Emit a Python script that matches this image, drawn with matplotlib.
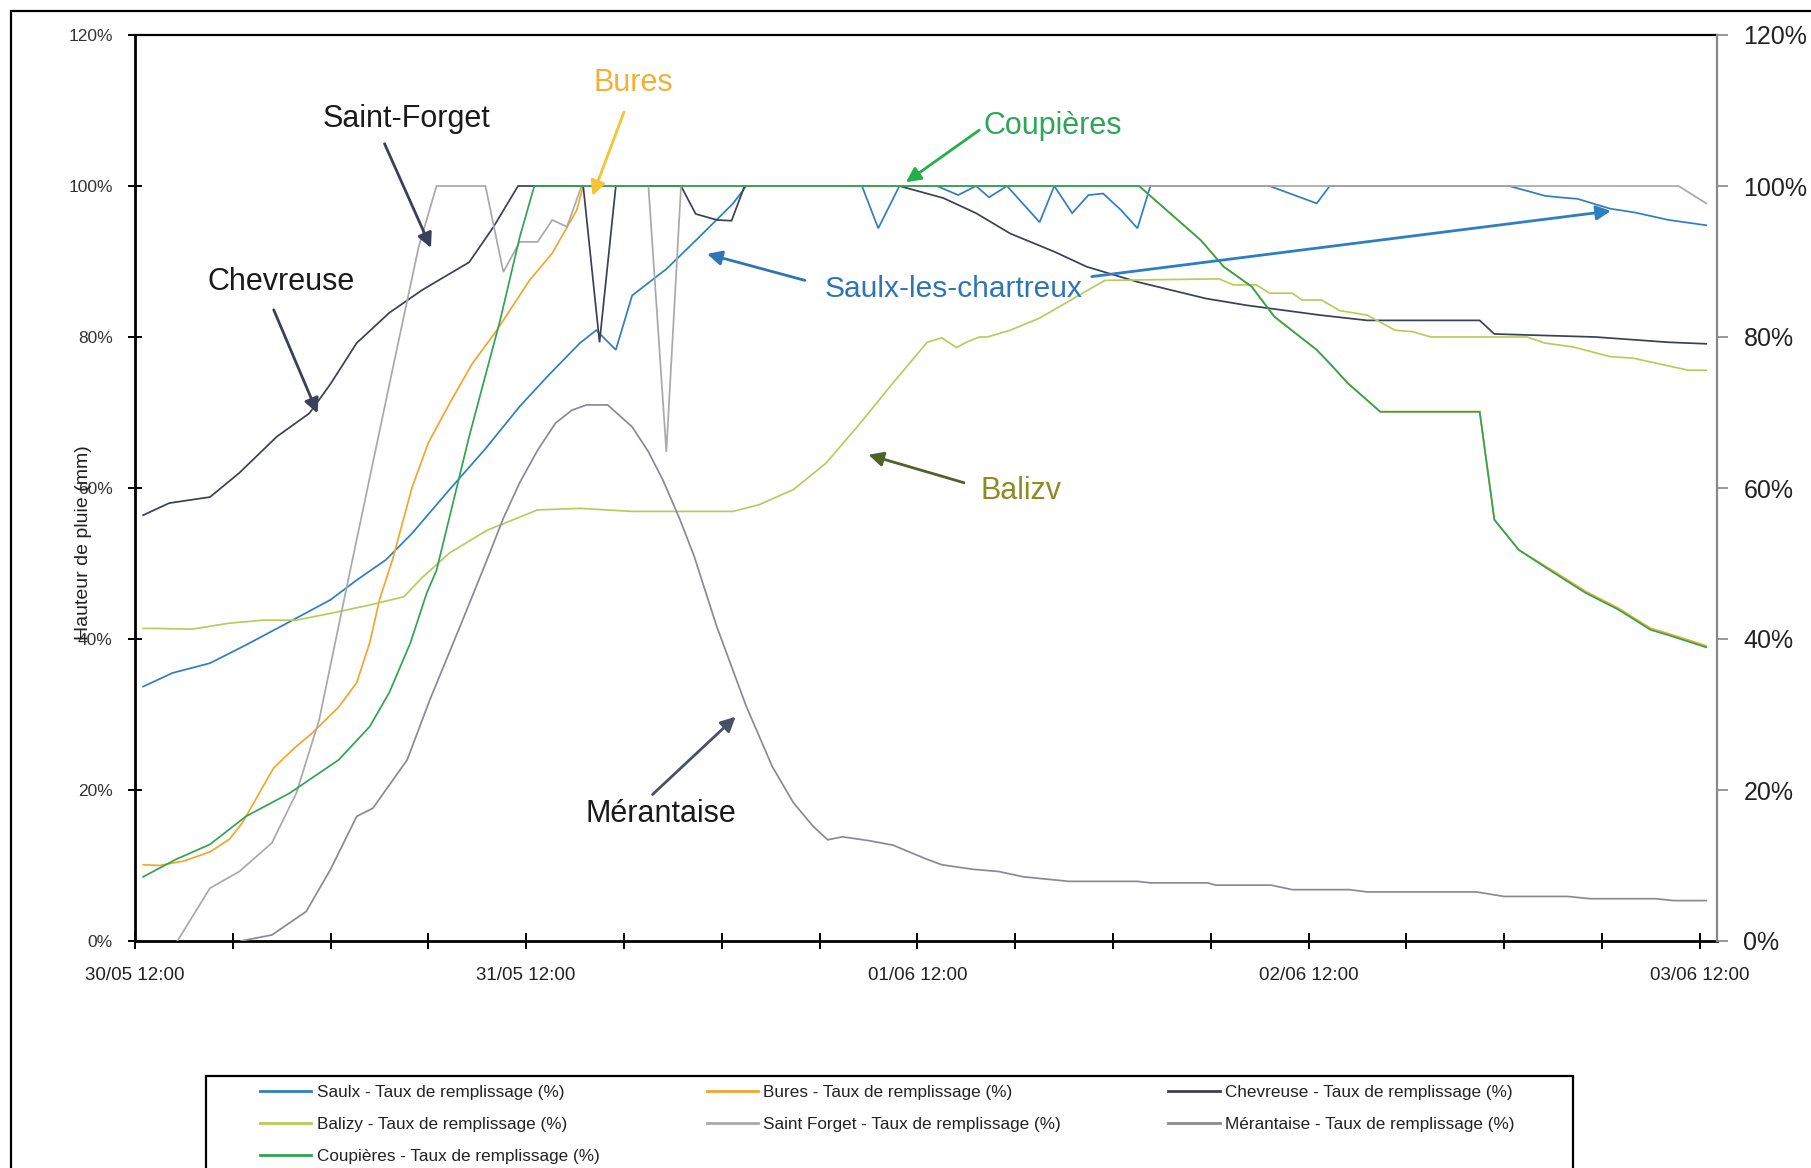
import matplotlib
matplotlib.use("Agg")
import matplotlib.pyplot as plt
from matplotlib.patches import Rectangle
from matplotlib.ticker import PercentFormatter

plt.rcParams['font.family'] = ['Liberation Sans', 'DejaVu Sans']

# ---------------- data (x = hours since 30/05 12:00, y = fill rate %) -------------
saulx_t = [0.5, 2.3, 4.6, 6.8, 9.5, 12.0, 13.6, 15.4, 17.0, 19.3, 21.5, 23.6, 25.4, 27.3,
           28.3, 29.5, 30.5, 32.6, 34.6, 36.7, 37.5, 44.6, 45.6, 46.9, 49.2, 50.5, 51.6,
           52.4, 53.5, 55.5, 56.4, 57.5, 58.5, 59.4, 60.5, 61.5, 62.3, 69.6, 72.5, 73.3,
           84.3, 85.5, 86.5, 87.4, 88.5, 90.5, 92.0, 94.1, 96.4]
saulx_v = [33.7, 35.5, 36.8, 39.2, 42.3, 45.2, 47.8, 50.5, 54.0, 59.8, 65.2, 70.8, 75.0, 79.2,
           80.9, 78.3, 85.5, 89.0, 93.2, 97.7, 100, 100, 94.4, 100, 100, 98.8, 100,
           98.5, 100, 95.2, 100, 96.4, 98.8, 99.0, 96.8, 94.4, 100, 100, 97.7, 100,
           100, 99.3, 98.7, 98.5, 98.3, 97.0, 96.5, 95.5, 94.8]

bures_t = [0.5, 1.5, 3.0, 4.6, 5.8, 6.6, 7.6, 8.5, 9.7, 10.9, 12.5, 13.6, 14.4, 15.0, 15.8,
           17.0, 18.0, 19.3, 20.7, 22.2, 24.2, 25.6, 27.1, 27.5, 61.6, 65.4, 66.8, 68.5,
           69.9, 72.5, 73.3, 74.4, 76.4, 82.5, 83.4, 84.9, 87.1, 89.0, 91.0, 93.0, 94.1, 96.4]
bures_v = [10.1, 10.0, 10.6, 11.8, 13.5, 15.7, 19.5, 22.9, 25.4, 27.6, 31.0, 34.2, 39.5, 45.2, 50.5,
           60.1, 66.0, 71.2, 76.5, 80.9, 87.5, 91.1, 96.8, 100, 100, 92.8, 89.3, 86.7,
           82.7, 78.3, 76.5, 73.9, 70.1, 70.1, 55.8, 51.8, 48.9, 46.3, 44.1, 41.4, 40.7, 39.1]

chevreuse_t = [0.5, 2.1, 4.6, 6.4, 8.7, 10.7, 12.0, 13.6, 15.6, 17.6, 20.5, 22.0, 23.5, 27.5,
               28.5, 29.5, 33.5, 34.4, 35.7, 36.6, 37.4, 46.9, 49.6, 51.6, 53.7, 56.4, 58.4,
               61.5, 65.7, 68.2, 72.7, 75.6, 82.5, 83.4, 89.6, 94.1, 96.4]
chevreuse_v = [56.4, 58.0, 58.8, 62.0, 66.8, 69.9, 73.8, 79.2, 83.2, 86.2, 89.9, 94.6, 100, 100,
               79.3, 100, 100, 96.3, 95.5, 95.4, 100, 100, 98.4, 96.4, 93.7, 91.3, 89.3,
               87.3, 85.1, 84.2, 82.9, 82.2, 82.2, 80.4, 80.0, 79.3, 79.1]

balizy_t = [0.5, 1.3, 3.5, 5.8, 7.9, 9.9, 12.0, 14.4, 16.5, 17.6, 19.3, 21.6, 24.7, 27.3,
            30.5, 36.7, 38.3, 40.4, 42.4, 44.5, 46.5, 48.6, 49.5, 50.4, 51.0, 51.8, 52.3,
            53.7, 55.5, 57.5, 59.5, 66.5, 67.4, 68.8, 69.6, 71.0, 71.6, 72.8, 73.9, 75.6,
            77.3, 78.4, 79.5, 85.4, 86.5, 88.2, 90.5, 91.9, 95.3, 96.4]
balizy_v = [41.4, 41.4, 41.3, 42.1, 42.5, 42.5, 43.4, 44.5, 45.6, 48.1, 51.4, 54.4, 57.1, 57.3,
            56.9, 56.9, 57.8, 59.8, 63.3, 68.6, 73.9, 79.3, 79.9, 78.6, 79.3, 80.0, 80.0,
            80.9, 82.5, 85.0, 87.5, 87.7, 86.9, 86.9, 85.8, 85.8, 84.9, 84.9, 83.5, 82.9,
            80.9, 80.7, 80.0, 80.0, 79.2, 78.7, 77.4, 77.2, 75.6, 75.6]

stforget_t = [2.6, 4.6, 6.4, 8.4, 9.9, 11.3, 13.0, 15.8, 17.4, 18.5, 21.5, 22.6, 23.6, 24.7,
              25.6, 26.5, 27.4, 31.5, 32.6, 33.5, 94.7, 96.4]
stforget_v = [0.0, 7.0, 9.2, 13.0, 19.6, 29.3, 47.0, 75.7, 91.9, 100, 100, 88.6, 92.6, 92.6,
              95.5, 94.6, 100, 100, 64.8, 100, 100, 97.7]

merantaise_t = [6.5, 8.4, 10.5, 12.0, 13.6, 14.6, 16.7, 18.1, 20.1, 21.6, 22.6, 23.6, 24.7,
                25.8, 26.8, 27.7, 29.0, 30.5, 31.5, 32.4, 33.4, 34.3, 35.7, 37.5, 39.1, 40.4,
                41.6, 42.5, 43.4, 45.0, 46.5, 47.5, 48.5, 49.5, 51.4, 53.0, 54.5, 57.3, 61.5,
                62.3, 65.8, 66.3, 69.7, 71.0, 74.5, 75.6, 82.3, 84.0, 87.9, 89.3, 93.3, 94.4, 96.4]
merantaise_v = [0.0, 0.8, 3.9, 9.5, 16.5, 17.6, 24.0, 32.0, 42.5, 50.5, 56.0, 60.7, 65.0,
                68.6, 70.3, 71.0, 71.0, 68.1, 64.8, 61.0, 56.0, 51.0, 41.6, 31.1, 23.1, 18.3,
                15.2, 13.4, 13.8, 13.3, 12.7, 11.8, 10.9, 10.1, 9.5, 9.2, 8.5, 7.9, 7.9,
                7.7, 7.7, 7.4, 7.4, 6.8, 6.8, 6.5, 6.5, 5.9, 5.9, 5.6, 5.6, 5.35, 5.35]

coupieres_t = [0.5, 2.5, 4.6, 6.8, 9.5, 12.5, 14.4, 15.6, 16.9, 17.9, 18.5, 20.5, 22.4, 23.6,
               24.5, 61.6, 65.4, 66.8, 68.5, 69.9, 72.5, 73.3, 74.4, 76.4, 82.5, 83.4, 84.9,
               87.1, 89.0, 91.0, 93.0, 94.1, 96.4]
coupieres_v = [8.5, 10.8, 12.8, 16.5, 19.6, 24.0, 28.4, 32.9, 39.5, 46.1, 49.1, 66.8, 82.2, 93.2,
               100, 100, 92.8, 89.3, 86.7, 82.7, 78.3, 76.5, 73.9, 70.1, 70.1, 55.8, 51.8,
               48.7, 46.1, 43.9, 41.2, 40.5, 38.9]

series_names = ["Saulx", "Bures", "Chevreuse", "Balizy", "Saint Forget", "Mérantaise", "Coupières"]
legend_suffix = " - Taux de remplissage (%)"

x_major_hours = [0, 24, 48, 72, 96]
x_major_labels = ["30/05 12:00", "31/05 12:00", "01/06 12:00", "02/06 12:00", "03/06 12:00"]
x_minor_hours = [6, 12, 18, 30, 36, 42, 54, 60, 66, 78, 84, 90]
y_ticks = [0, 20, 40, 60, 80, 100, 120]

# ---------------- styling ----------------
colors = {
    "Saulx": "#2f7ec1",
    "Bures": "#f5a52e",
    "Chevreuse": "#3c3f58",
    "Balizy": "#b8cc5c",
    "Saint Forget": "#a9a9ab",
    "Mérantaise": "#8a8a96",
    "Coupières": "#2fa552",
}

W, H = 1811, 1168
fig = plt.figure(figsize=(W / 100, H / 100), dpi=100)
L, R, T, B = 135, 1717, 35, 941
ax = fig.add_axes([L / W, 1 - B / H, (R - L) / W, (B - T) / H])

data = [
    (saulx_t, saulx_v), (bures_t, bures_v), (chevreuse_t, chevreuse_v),
    (balizy_t, balizy_v), (stforget_t, stforget_v), (merantaise_t, merantaise_v),
    (coupieres_t, coupieres_v),
]
handles = {}
for name, (t, v) in zip(series_names, data):
    ln, = ax.plot(t, v, color=colors[name], lw=1.25, solid_joinstyle='miter',
                  label=name + legend_suffix, zorder=3)
    handles[name] = ln

ax.set_xlim(0, 97.06)
ax.set_ylim(0, 120)
ax.set_xticks(x_major_hours)
ax.set_xticklabels(x_major_labels)
ax.set_xticks(x_minor_hours, minor=True)
ax.set_yticks(y_ticks)
ax.yaxis.set_major_formatter(PercentFormatter(xmax=100, decimals=0))
ax.tick_params(axis='x', which='both', direction='inout', length=11, width=1.4,
               labelsize=13.5, pad=13.5, colors='black', labelcolor='#222222')
ax.tick_params(axis='y', which='major', direction='inout', length=10, width=1.4,
               labelsize=12.5, pad=11, colors='black', labelcolor='#333333')
for s in ['left', 'bottom']:
    ax.spines[s].set_linewidth(2.0)
    ax.spines[s].set_color('black')
ax.spines['top'].set_linewidth(1.6)
ax.spines['top'].set_color('black')
ax.spines['right'].set_visible(False)

ax2 = ax.twinx()
ax2.set_ylim(0, 120)
ax2.set_yticks(y_ticks)
ax2.yaxis.set_major_formatter(PercentFormatter(xmax=100, decimals=0))
ax2.tick_params(axis='y', direction='out', length=8, width=1.2, colors='#888888',
                labelsize=18, pad=11, labelcolor='#222222')
for s in ['left', 'top', 'bottom']:
    ax2.spines[s].set_visible(False)
ax2.spines['right'].set_color('#888888')
ax2.spines['right'].set_linewidth(1.6)

# ---------------- annotations ----------------
def note(text, xy_text, xy_tail, xy_head, tcolor, acolor, size=22):
    ax.annotate('', xy=xy_head, xytext=xy_tail, xycoords='data', textcoords='data',
                arrowprops=dict(arrowstyle='-|>', color=acolor, lw=2.0,
                                mutation_scale=22, shrinkA=0, shrinkB=0),
                zorder=5, annotation_clip=False)
    ax.text(xy_text[0], xy_text[1], text, color=tcolor, fontsize=size,
            ha='center', va='center', zorder=6, clip_on=False)

note("Bures", (30.55, 113.6), (30.0, 109.8), (28.07, 98.7), "#f2b135", "#f5c334")
note("Saint-Forget", (16.66, 108.9), (15.31, 105.6), (18.16, 91.8), "#1a1a1a", "#3b3f5c")
note("Chevreuse", (8.94, 87.3), (8.51, 83.6), (11.2, 69.9), "#1a1a1a", "#3b3f5c")
note("Coupières", (56.3, 108.0), (51.8, 107.4), (47.3, 100.5), "#2fa558", "#22b04b")
note("Saulx-les-chartreux", (50.25, 86.4), (41.1, 87.5), (35.1, 91.0), "#2e75b6", "#2e75b6",
     size=21.5)
ax.annotate('', xy=(90.55, 96.7), xytext=(58.7, 88.0),
            arrowprops=dict(arrowstyle='-|>', color="#2e7fc0", lw=2.0, mutation_scale=22,
                            shrinkA=0, shrinkB=0), zorder=5)
note("Balizv", (54.35, 59.6), (50.86, 60.7), (45.0, 64.4), "#8c8c22", "#4f6228")
note("Mérantaise", (32.25, 16.8), (31.75, 19.4), (36.85, 29.7), "#1a1a1a", "#4a5068")

# axis title (overlapping the left tick labels as in the original)
fig.text(83 / W, 1 - 543 / H, "Hauteur de pluie (mm)", rotation=90, ha='center',
         va='center', fontsize=14, color='#222222')

# ---------------- frames and legend ----------------
fig.patches.append(Rectangle((11 / W, -0.05), 1.2, 1 - 11 / H + 0.05, transform=fig.transFigure,
                             fill=False, ec='black', lw=1.6, zorder=0))
fig.patches.append(Rectangle((206 / W, -0.05), (1573 - 206) / W, 1 - 1076 / H + 0.05,
                             transform=fig.transFigure, fill=False, ec='black', lw=1.6, zorder=0))

order = ["Saulx", "Balizy", "Coupières", "Bures", "Saint Forget", "Chevreuse", "Mérantaise"]
leg = fig.legend([handles[n] for n in order], [n + legend_suffix for n in order],
                 loc='upper left', bbox_to_anchor=(260 / W, 1 - 1085 / H), ncol=3,
                 frameon=False, fontsize=12.35, handlelength=3.0, handletextpad=0.3,
                 columnspacing=6.25, labelspacing=0.98, borderpad=0, borderaxespad=0)
for t in leg.get_texts():
    t.set_color('#222222')
for l in leg.get_lines():
    l.set_linewidth(2.0)

fig.savefig("out.png", dpi=100, facecolor='white')
